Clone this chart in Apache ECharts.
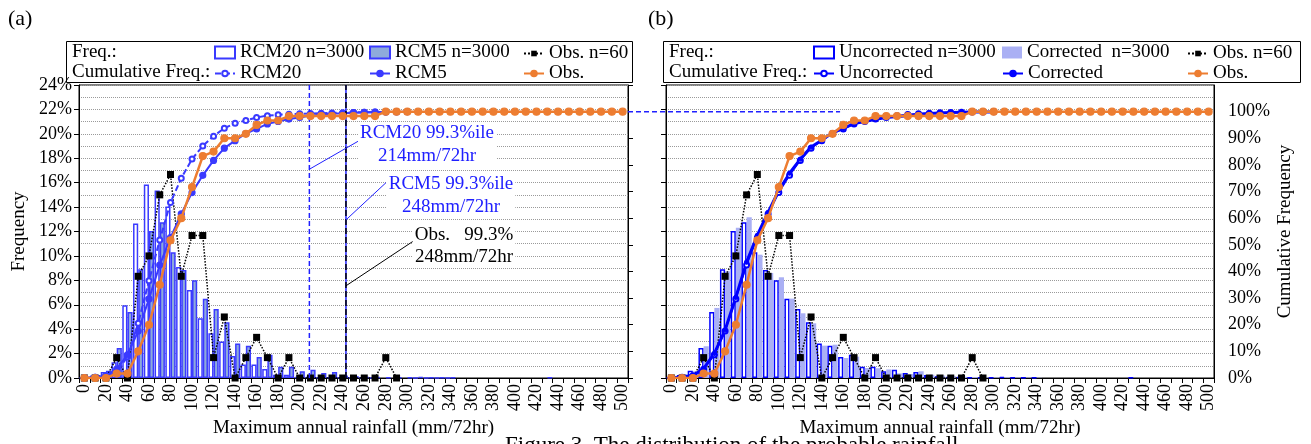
<!DOCTYPE html>
<html><head><meta charset="utf-8">
<script src="https://cdn.jsdelivr.net/npm/echarts@6/dist/echarts.min.js"></script>
<style>html,body{margin:0;padding:0;background:#fff}#c{width:1311px;height:444px}</style>
</head><body><div id="c"></div>
<script>
// ---------- DATA ----------
const categories = ['0','10','20','30','40','50','60','70','80','90','100','110','120','130','140','150','160','170','180','190','200','210','220','230','240','250','260','270','280','290','300','310','320','330','340','350','360','370','380','390','400','410','420','430','440','450','460','470','480','490','500'];

// Frequency (%) per 10 mm bin
const rcm20Freq = [0.05,0.2,0.5,1.3,5.95,12.65,15.85,15.35,14.05,9.1,7.2,4.9,3.67,3.0,1.8,1.1,1.1,0.73,0.27,0.27,0.1,0.07,0.05,0.03,0.03,0.02,0.02,0.01,null,null,null,0.02,0.02,0.02,0.02];
const rcm5Freq = [0.03,0.25,0.6,2.45,5.4,8.9,12.05,12.75,10.3,8.85,8.0,6.5,5.66,4.57,2.82,2.64,1.71,1.9,0.92,0.92,0.55,0.68,0.41,0.49,0.2,0.15,0.1,0.07,0.05,0.03,0.03,0.07,0.04,0.03,0.03,null,null,null,null,null,null,null,null,0.03];
const obsFreq = [0,0,0,1.67,0,8.33,10,15,16.67,8.33,11.67,11.67,1.67,5,0,1.67,3.33,1.67,0,1.67,0,0,0,0,0,0,0,0,1.67,0];
const uncorrectedFreq = [0.03,0.25,0.6,2.45,5.4,8.9,12.05,12.75,10.3,8.85,8.0,6.5,5.66,4.57,2.82,2.64,1.71,1.9,0.92,0.92,0.55,0.68,0.41,0.49,0.25,0.15,0.1,0.07,0.05,0.03,0.03,0.07,0.04,0.03,0.03,null,null,null,null,null,null,null,null,0.03];
const correctedFreq = [0.05,0.3,0.55,2.6,5.74,8.74,12.3,13.17,10.1,8.6,8.25,6.5,5.3,4.48,2.65,2.73,1.64,1.75,0.82,0.8,0.7,0.38,0.33,0.55,0.27,0.2,0.15,0.1,0.07,0.05,0.04,0.05,0.03,0.03,0.02];

// Cumulative frequency (%)
const rcm20Cum = [0.05,0.25,0.75,2.05,8.0,20.6,36.5,51.8,65.9,75.0,82.2,87.1,90.8,93.8,95.6,96.7,97.8,98.5,98.8,99.0,99.2,99.3,99.4,99.5,99.6,99.7,99.8,99.85,99.9,99.95,100];
const rcm5Cum = [0.03,0.28,0.88,3.33,8.73,17.6,29.7,42.4,52.7,61.6,69.6,76.1,81.7,86.3,89.1,91.8,93.5,95.4,96.3,97.2,97.8,98.5,98.9,99.2,99.4,99.6,99.7,99.8,99.85,99.9,99.95];
const obsCum = [0,0,0,1.67,1.67,10,20,35,51.67,60,71.67,83.33,85,90,90,91.67,95,96.67,96.67,98.33,98.33,98.33,98.33,98.33,98.33,98.33,98.33,98.33,100,100,100,100,100,100,100,100,100,100,100,100,100,100,100,100,100,100,100,100,100,100,100];
const uncorrectedCum = [0.03,0.28,0.88,3.33,8.73,17.6,29.7,42.4,52.7,61.6,69.6,76.1,81.7,86.3,89.1,91.8,93.5,95.4,96.3,97.2,97.8,98.5,98.9,99.2,99.4,99.6,99.7,99.8,99.85,99.9,99.95];
const correctedCum = [0.05,0.35,0.9,3.5,9.24,18.0,30.3,43.5,53.6,62.2,70.4,76.9,82.2,86.7,89.3,92.1,93.7,95.5,96.3,97.1,97.8,98.2,98.5,99.0,99.3,99.5,99.65,99.75,99.82,99.87,99.91];

// 99.3 percentile (mm/72hr): RCM20, RCM5, Obs.
const percentile993 = [214, 248, 248];
const freqMax = 24, cumMax = 110;

// ---------- CHART ----------
const F = '"Liberation Serif","Times New Roman",serif';
const chart = echarts.init(document.getElementById('c'), null, {renderer:'canvas'});
const txt = (size, color) => ({fontFamily:F, fontSize:size, color:color||'#000'});
const GRID = '#9a9a9a';
const BLUE = '#3a3aff', PURE = '#0000ff', ORANGE = '#ED7D31';

function catX(g){
  return {type:'category', gridIndex:g, data:categories, boundaryGap:true,
    axisLine:{lineStyle:{color:'#000'}},
    axisTick:{show:true, interval:0, length:5, lineStyle:{color:'#000'}},
    axisLabel:Object.assign({interval:1, rotate:90, margin:6}, txt(18)),
    name:'Maximum annual rainfall (mm/72hr)', nameLocation:'middle', nameGap:37, nameTextStyle:txt(19)};
}
function valX(g){ return {type:'value', gridIndex:g, min:0, max:510, show:false}; }
function freqY(g, showLabel){
  return {type:'value', gridIndex:g, min:0, max:freqMax, interval:2, position:'left',
    axisLine:{show:true, lineStyle:{color:'#000'}},
    axisTick:{show:true, length:5, lineStyle:{color:'#000'}},
    axisLabel:Object.assign({show:showLabel, margin:7, formatter:'{value}%'}, txt(18)),
    splitLine:{show:true, lineStyle:{color:GRID, type:'dotted', width:1}},
    minorTick:{show:false, splitNumber:2},
    minorSplitLine:{show:true, lineStyle:{color:GRID, type:'dotted', width:1}},
    name: showLabel ? 'Frequency' : '', nameLocation:'middle', nameGap:50, nameRotate:90, nameTextStyle:txt(19)};
}
function cumY(g, showLabel){
  return {type:'value', gridIndex:g, min:0, max:cumMax, interval:10, position:'right',
    axisLine:{show:true, lineStyle:{color:'#000'}},
    axisTick:{show:!showLabel, length:5, lineStyle:{color:'#000'}},
    axisLabel:Object.assign({show:showLabel, margin:14, formatter:v => v > 100 ? '' : v + '%'}, txt(18)),
    splitLine:{show:false},
    name: showLabel ? 'Cumulative Frequency' : '', nameLocation:'middle', nameGap:62, nameRotate:90, nameTextStyle:txt(19)};
}

function bar(name, data, x, y, fill, border, bw){
  return {type:'bar', name, data, xAxisIndex:x, yAxisIndex:y, barGap:'0%', barCategoryGap:'4%',
    itemStyle:{color:fill, borderColor:border, borderWidth:bw}, emphasis:{disabled:true}, silent:true};
}
function obsLine(name, x, y){
  return {type:'line', name, data:obsFreq, xAxisIndex:x, yAxisIndex:y, symbol:'rect', symbolSize:7,
    itemStyle:{color:'#000'}, lineStyle:{color:'#000', width:1.5, type:'dotted'}, silent:true, z:3};
}
function cumLine(name, data, x, y, color, width, type, symbol, size, z){
  return {type:'line', name, data, xAxisIndex:x, yAxisIndex:y, symbol, symbolSize:size,
    itemStyle:{color, borderColor:color, borderWidth:1.2}, lineStyle:{color, width, type}, silent:true, z:z||4};
}
function seg(pts, color, width, type, z){
  return {type:'line', data:pts, xAxisIndex:1, yAxisIndex:0, symbol:'none', silent:true,
    lineStyle:{color, width, type}, z:z||5};
}

const series = [
  bar('RCM20 n=3000', rcm20Freq, 0, 0, '#ffffff', BLUE, 1.5),
  bar('RCM5 n=3000', rcm5Freq, 0, 0, '#8eaadb', BLUE, 1.5),
  obsLine('Obs. n=60', 0, 0),
  cumLine('RCM20', rcm20Cum, 0, 1, BLUE, 2, [6,3], 'emptyCircle', 5),
  cumLine('RCM5', rcm5Cum, 0, 1, BLUE, 2, 'solid', 'circle', 6),
  cumLine('Obs.', obsCum, 0, 1, ORANGE, 2.5, 'solid', 'circle', 7, 6),
  // percentile lines (value x axis in mm)
  seg([[percentile993[0],0],[percentile993[0],freqMax]], '#2020ff', 1.5, [5,3]),
  seg([[percentile993[1],0],[percentile993[1],freqMax]], '#2020ff', 1.5, 'solid'),
  seg([[percentile993[2],0],[percentile993[2],freqMax]], '#000', 1.5, [6,3]),
  // annotation leader lines
  seg([[percentile993[0],17.1],[260.4,19.45]], '#2020ff', 1, 'solid'),
  seg([[percentile993[1],12.95],[285.2,16.0]], '#2020ff', 1, 'solid'),
  seg([[percentile993[2],7.55],[312.1,11.3]], '#000', 1, 'solid'),
  // right panel
  bar('Uncorrected n=3000', uncorrectedFreq, 2, 2, '#ffffff', PURE, 1.5),
  bar('Corrected  n=3000', correctedFreq, 2, 2, '#aab0f4', '#aab0f4', 0),
  obsLine('Obs. n=60', 2, 2),
  cumLine('Uncorrected', uncorrectedCum, 2, 3, PURE, 1.5, 'solid', 'emptyCircle', 5),
  cumLine('Corrected', correctedCum, 2, 3, PURE, 3, 'solid', 'circle', 4),
  cumLine('Obs.', obsCum, 2, 3, ORANGE, 2.5, 'solid', 'circle', 7, 6)
];

function leg(name, left, top, isBar){
  const o = {data:[name], left, top, orient:'horizontal', padding:0, itemWidth:20, itemHeight: isBar ? 12 : 7,
    selectedMode:false, textStyle:txt(19)};
  if (isBar) o.icon = 'rect';
  return o;
}
const R1 = 44, R2 = 64;
const legends = [
  leg('RCM20 n=3000', 214, R1-1, true), leg('RCM5 n=3000', 369, R1-1, true), leg('Obs. n=60', 523, R1),
  leg('RCM20', 214, R2), leg('RCM5', 369, R2), leg('Obs.', 523, R2),
  leg('Uncorrected n=3000', 813, R1-1, true), leg('Corrected  n=3000', 1002, R1-1, true), leg('Obs. n=60', 1187, R1),
  leg('Uncorrected', 813, R2), leg('Corrected', 1002, R2), leg('Obs.', 1187, R2)
];

const option = {
  animation:false,
  backgroundColor:'#fff',
  grid:[
    {left:79, top:85, width:549, height:293, show:true, borderColor:'#000', borderWidth:1, backgroundColor:'transparent'},
    {left:666, top:85, width:548, height:293, show:true, borderColor:'#000', borderWidth:1, backgroundColor:'transparent'}
  ],
  xAxis:[catX(0), valX(0), catX(1), valX(1)],
  yAxis:[freqY(0,true), cumY(0,false), freqY(1,false), cumY(1,true)],
  legend:legends,
  series
};
chart.setOption(option);

// graphics (layout elements); dashed 100% reference line positioned through the axes
const y100 = chart.convertToPixel({yAxisIndex:3}, 100);
const xStart = chart.convertToPixel({xAxisIndex:1}, 510);
const xEnd = chart.convertToPixel({xAxisIndex:3}, 162);
const T = (text, x, y, size, color, align, extra) => ({type:'text', x, y, z:100,
  style:Object.assign({text, font:size+'px "Liberation Serif", "Times New Roman", serif', fill:color||'#000',
    align:align||'left', verticalAlign:'middle'}, extra||{})});
chart.setOption({graphic:[
  T('(a)', 8, 19, 22), T('(b)', 648, 19, 22),
  {type:'rect', z:100, shape:{x:66.5, y:41.5, width:566, height:41}, style:{fill:'none', stroke:'#000', lineWidth:1}},
  {type:'rect', z:100, shape:{x:663.5, y:41.5, width:637, height:41}, style:{fill:'none', stroke:'#000', lineWidth:1}},
  T('Freq.:', 72, 52, 19), T('Cumulative Freq.:', 72, 72, 19),
  T('Freq.:', 669, 52, 19), T('Cumulative Freq.:', 669, 72, 19),
  T('RCM20 99.3%ile\n214mm/72hr', 427, 145, 19, '#2020ff', 'center', {backgroundColor:'#fff', padding:[0,2], lineHeight:23}),
  T('RCM5 99.3%ile\n248mm/72hr', 451, 196, 19, '#2020ff', 'center', {backgroundColor:'#fff', padding:[0,2], lineHeight:23}),
  T('Obs.   99.3%\n248mm/72hr', 464, 246, 19, '#000', 'center', {backgroundColor:'#fff', padding:[0,2], lineHeight:22}),
  T('Figure 3. The distribution of the probable rainfall', 505, 446, 23, '#000', 'left'),
  {type:'line', z:50, shape:{x1:xStart, y1:y100, x2:xEnd, y2:y100}, style:{stroke:'#2020ff', lineWidth:1.5, lineDash:[5,3]}}
]});
</script></body></html>
